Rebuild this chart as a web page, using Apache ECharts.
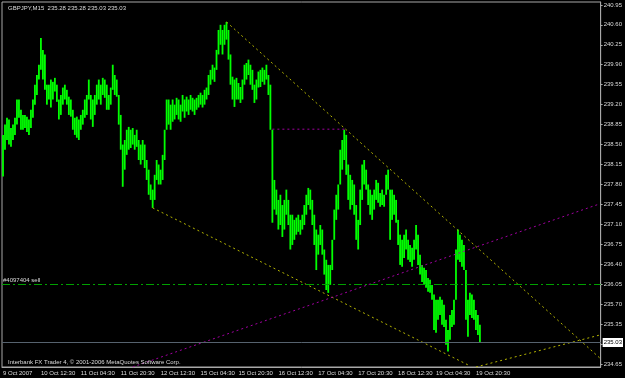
<!DOCTYPE html>
<html><head><meta charset="utf-8">
<script src="https://cdn.jsdelivr.net/npm/echarts@6/dist/echarts.min.js"></script>
<style>html,body{margin:0;padding:0;background:#000;}#c{width:625px;height:378px;}</style>
</head><body><div id="c"></div>
<script>
// bar highs / lows (GBPJPY M15), one per time slot
const highs = [
238.67,238.85,238.97,238.94,238.79,238.85,238.97,239.29,239.29,239.11,
239.02,239.02,238.99,238.94,239.11,239.29,239.55,239.72,239.90,240.37,
240.16,240.08,239.55,239.55,239.64,239.60,239.67,239.55,239.29,239.37,
239.50,239.55,239.46,239.34,239.29,239.11,238.97,238.99,238.94,239.02,
239.11,239.29,239.37,239.64,239.37,239.29,239.37,239.55,239.64,239.55,
239.67,239.64,239.55,239.37,239.50,239.90,239.72,239.64,239.37,239.02,
238.50,238.58,238.76,238.81,238.76,238.79,238.67,238.76,238.58,238.50,
238.58,238.50,238.23,238.06,237.80,237.71,237.97,238.23,238.15,238.06,
238.32,238.76,239.29,239.29,239.20,239.29,239.20,239.32,239.29,239.20,
239.37,239.29,239.34,239.29,239.37,239.32,239.29,239.32,239.37,239.41,
239.37,239.46,239.50,239.72,239.81,239.90,239.85,240.16,240.51,240.60,
240.51,240.60,240.65,240.51,240.08,239.69,239.64,239.67,239.58,239.51,
239.64,239.90,239.93,239.99,239.90,239.81,239.55,239.64,239.78,239.81,
239.85,239.81,239.90,239.72,239.55,238.76,237.88,237.71,237.53,237.62,
237.44,237.53,237.71,237.53,237.27,237.27,237.18,237.22,237.27,237.18,
237.27,237.44,237.62,237.74,237.71,237.53,237.27,237.01,236.92,237.09,
237.01,236.66,236.48,236.39,236.39,236.83,237.36,237.62,237.80,238.41,
238.58,238.76,238.67,238.15,237.97,237.88,237.80,237.44,237.18,237.71,
238.15,238.23,238.06,237.80,237.71,237.62,237.71,237.88,237.83,237.65,
237.71,237.62,237.97,238.06,237.71,237.71,237.62,237.53,237.18,236.92,
236.83,236.92,237.01,236.83,236.74,236.69,236.83,237.09,236.92,236.57,
236.39,236.34,236.30,236.16,236.13,236.04,235.87,235.78,235.78,235.83,
235.78,235.69,235.43,235.25,235.51,235.60,235.78,236.66,237.01,236.92,
236.83,236.74,236.30,235.78,235.90,235.87,235.78,235.60,235.51,235.34
];
const lows = [
237.94,238.41,238.58,238.50,238.46,238.58,238.67,238.85,238.97,238.76,
238.76,238.79,238.72,238.67,238.79,238.97,239.20,239.37,239.64,239.81,
239.64,239.46,239.20,239.29,239.15,239.29,239.43,239.25,238.94,239.02,
239.20,239.29,239.20,239.02,238.99,238.76,238.67,238.62,238.58,238.76,
238.85,238.97,239.02,239.29,238.94,238.81,239.02,239.20,239.29,239.20,
239.37,239.32,239.11,239.11,239.20,239.46,239.37,239.34,238.85,238.41,
237.76,238.06,238.32,238.41,238.44,238.50,238.41,238.46,238.23,238.15,
238.23,238.09,237.88,237.62,237.53,237.39,237.53,237.88,237.80,237.80,
237.88,238.23,238.76,238.85,238.76,238.90,238.94,239.02,238.94,238.90,
239.08,238.97,239.08,239.02,239.11,239.08,239.02,239.11,239.15,239.20,
239.15,239.20,239.29,239.37,239.55,239.64,239.60,239.81,240.08,240.25,
240.08,240.25,240.34,239.99,239.55,239.29,239.16,239.29,239.29,239.23,
239.29,239.55,239.64,239.72,239.55,239.46,239.23,239.29,239.50,239.51,
239.60,239.55,239.64,239.37,238.76,237.13,237.36,237.27,237.01,237.09,
236.88,237.01,237.27,237.09,236.66,236.74,236.83,236.92,236.97,236.92,
237.01,237.09,237.27,237.44,237.36,237.09,236.74,236.30,236.57,236.74,
236.57,236.22,235.95,235.90,236.04,236.30,236.83,237.18,237.36,237.80,
238.06,238.23,237.97,237.53,237.36,237.44,237.27,236.83,236.66,237.09,
237.53,237.80,237.71,237.44,237.27,237.18,237.36,237.53,237.48,237.41,
237.44,237.41,237.62,237.71,236.83,237.18,237.27,237.13,236.74,236.39,
236.36,236.51,236.66,236.48,236.44,236.36,236.48,236.66,236.39,236.22,
236.09,236.04,235.99,235.92,235.90,235.78,235.25,235.20,235.43,235.51,
235.34,235.30,234.99,234.87,235.08,235.30,235.34,235.78,236.48,236.44,
236.36,236.30,235.43,235.13,235.51,235.46,235.43,235.25,235.16,235.04
];
const slotCount = 300;
const xTickIndex = [0,19,39,59,79,99,118,138,158,178,198,217,237];
const xTickLabels = ['9 Oct 2007','10 Oct 12:30','11 Oct 04:30','11 Oct 20:30','12 Oct 12:30','15 Oct 04:30','15 Oct 20:30','16 Oct 12:30','17 Oct 04:30','17 Oct 20:30','18 Oct 12:30','19 Oct 04:30','19 Oct 20:30'];
const yTicks = [234.65,235.00,235.35,235.70,236.05,236.40,236.75,237.10,237.45,237.80,238.15,238.50,238.85,239.20,239.55,239.90,240.25,240.60,240.95];
const bidPrice = 235.03;
const orderPrice = 236.05;
const orderLabel = '#4097404 sell';
const titleText = 'GBPJPY,M15  235.28 235.28 235.03 235.03';
const footerText = 'Interbank FX Trader 4, \u00a9 2001-2006 MetaQuotes Software Corp.';
// trendlines: [slot, price] pairs
const trendUpper = [[112,240.65],[299,234.76]];
const trendLower = [[75,237.39],[234,234.62]];
const trendRising = [[237,234.60],[299,235.16]];
const trendMagenta = [[65,234.60],[299,237.46]];
const levelMagenta = [[135,238.77],[172,238.77]];

const categories = Array.from({length: slotCount}, (_, i) => i);
const barData = highs.map((h, i) => [i, h, lows[i]]);
const FONT = 'Liberation Sans';
const txt = '#dcdcdc';

const chart = echarts.init(document.getElementById('c'), null, {renderer: 'canvas'});
const dotted = (c, d) => ({color: c, width: 1, type: d});
const trend = (data, color, dash) => ({
  type: 'line', data, symbol: 'none', silent: true, animation: false, clip: true,
  lineStyle: dotted(color, dash), z: 3
});
chart.setOption({
  backgroundColor: '#000',
  animation: false,
  title: [
    {text: titleText, left: 3, top: 0, textStyle: {color: txt, fontSize: 6, fontWeight: 'normal', fontFamily: FONT}},
    {text: footerText, left: 3, top: 354, textStyle: {color: txt, fontSize: 6, fontWeight: 'normal', fontFamily: FONT}}
  ],
  grid: {left: 1, top: 2, width: 600, height: 365, show: true, borderColor: '#a8a8a8', borderWidth: 1, backgroundColor: '#000'},
  xAxis: {
    type: 'category', data: categories, boundaryGap: true,
    axisLine: {lineStyle: {color: '#a8a8a8'}},
    axisTick: {alignWithLabel: true, length: 3, lineStyle: {color: '#a8a8a8'}, interval: (i) => xTickIndex.includes(i)},
    axisLabel: {interval: (i) => xTickIndex.includes(i), formatter: (v) => xTickLabels[xTickIndex.indexOf(Number(v))] || '',
      color: txt, fontSize: 6, fontFamily: FONT, align: 'left', margin: 3},
    splitLine: {show: false}
  },
  yAxis: {
    type: 'value', position: 'right', min: 234.60, max: 241.00, scale: true,
    axisLine: {show: true, lineStyle: {color: '#a8a8a8'}},
    axisTick: {show: true, length: 2, customValues: yTicks, lineStyle: {color: '#a8a8a8'}},
    axisLabel: {customValues: yTicks.filter(v => Math.abs(v - 235.00) > 0.001), formatter: (v) => Number(v).toFixed(2), color: txt, fontSize: 6, fontFamily: FONT, margin: 3},
    splitLine: {show: false}
  },
  series: [
    {
      type: 'custom', data: barData, animation: false, silent: true, z: 2,
      encode: {x: 0, y: [1, 2]},
      renderItem: (params, api) => {
        const top = api.coord([api.value(0), api.value(1)]);
        const bot = api.coord([api.value(0), api.value(2)]);
        return {type: 'rect', shape: {x: top[0] - 0.9, y: top[1], width: 1.8, height: Math.max(1, bot[1] - top[1])}, style: {fill: '#00ff00'}};
      }
    },
    Object.assign(trend(trendUpper, '#b4b400', [2, 3]), {
      markLine: {
        symbol: 'none', silent: true, animation: false,
        data: [
          {yAxis: orderPrice, lineStyle: {color: '#00a000', width: 1, type: [8, 3, 2, 3]},
           label: {show: true, position: 'insideStartTop', formatter: orderLabel, color: txt, fontSize: 6, fontFamily: FONT, distance: 1}},
          {yAxis: bidPrice, lineStyle: {color: '#56626e', width: 1, type: 'solid'},
           label: {show: true, position: 'end', formatter: bidPrice.toFixed(2), backgroundColor: '#ffffff', color: '#000', fontSize: 6, fontFamily: FONT, padding: [2, 1, 1, 1], distance: 2}}
        ]
      }
    }),
    trend(trendLower, '#b4b400', [2, 3]),
    trend(trendRising, '#b4b400', [2, 3]),
    trend(trendMagenta, '#a000a0', [2, 3]),
    trend(levelMagenta, '#a000a0', [2, 3])
  ]
});
</script></body></html>
